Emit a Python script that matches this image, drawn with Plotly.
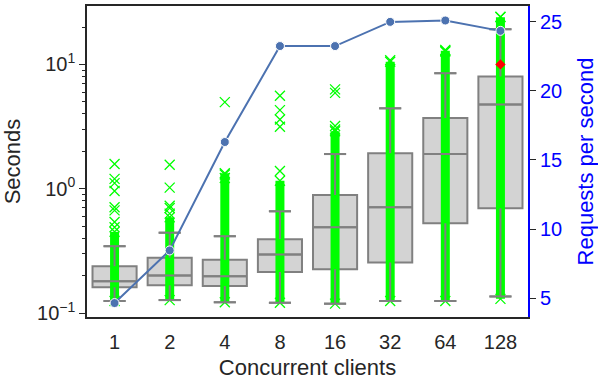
import plotly.graph_objects as go

clients = ['1', '2', '4', '8', '16', '32', '64', '128']

# box statistics (seconds)
q1 = [0.161, 0.167, 0.165, 0.214, 0.225, 0.255, 0.527, 0.695]
median = [0.180, 0.200, 0.198, 0.296, 0.490, 0.708, 1.90, 4.76]
q3 = [0.238, 0.279, 0.268, 0.393, 0.890, 1.93, 3.70, 8.0]
lower = [0.125, 0.127, 0.122, 0.121, 0.119, 0.125, 0.125, 0.136]
upper = [0.345, 0.443, 0.415, 0.658, 1.90, 4.43, 8.5, 19.2]

# dense band of raw samples and sparse outliers
band_low = [0.125, 0.127, 0.122, 0.121, 0.119, 0.125, 0.125, 0.13]
band_high = [0.45, 0.59, 1.33, 1.16, 2.9, 10.5, 12.9, 24.0]
outliers = [
    [1.58, 1.20, 1.11, 0.96, 0.71, 0.67, 0.54, 0.49],
    [1.56, 1.02, 0.73, 0.70, 0.63],
    [4.97, 1.30, 1.22],
    [5.6, 4.29, 3.6, 3.15, 1.39],
    [6.3, 5.9, 3.2, 3.0],
    [10.8],
    [13.1, 12.7],
    [24.2],
]
mean_128 = 10.0

# throughput
rps = [4.64, 8.45, 16.3, 23.25, 23.25, 25.0, 25.1, 24.35]

pos = list(range(len(clients)))
gray = '#808080'
green = '#00ff00'
ink = '#262626'

fig = go.Figure()

fig.add_trace(go.Box(
    x=pos, q1=q1, median=median, q3=q3, lowerfence=lower, upperfence=upper,
    fillcolor='#d3d3d3', line=dict(color=gray, width=2), width=0.8,
    whiskerwidth=0.5, boxpoints=False, showlegend=False, hoverinfo='skip'))

# dense sample band
bx, by = [], []
for i in pos:
    bx += [i, i, None]
    by += [band_low[i], band_high[i], None]
fig.add_trace(go.Scatter(x=bx, y=by, mode='lines',
                         line=dict(color=green, width=9), showlegend=False))

ox, oy = [], []
for i in pos:
    pts = outliers[i] + [band_low[i], band_high[i]]
    ox += [i] * len(pts)
    oy += pts
fig.add_trace(go.Scatter(x=ox, y=oy, mode='markers', showlegend=False,
                         marker=dict(symbol='x-thin', size=10, color=green,
                                     line=dict(color=green, width=1.3))))

# whiskers, caps and medians drawn above the samples
sx, sy = [], []
for i in pos:
    sx += [i, i, None, i, i, None,
           i - 0.2, i + 0.2, None, i - 0.2, i + 0.2, None,
           i - 0.4, i + 0.4, None]
    sy += [lower[i], q1[i], None, q3[i], upper[i], None,
           lower[i], lower[i], None, upper[i], upper[i], None,
           median[i], median[i], None]
fig.add_trace(go.Scatter(x=sx, y=sy, mode='lines',
                         line=dict(color=gray, width=2), showlegend=False))

fig.add_trace(go.Scatter(x=[7], y=[mean_128], mode='markers', showlegend=False,
                         marker=dict(symbol='diamond', size=8, color='red')))

fig.add_trace(go.Scatter(x=pos, y=rps, yaxis='y2', mode='lines+markers',
                         line=dict(color='#4c72b0', width=2),
                         marker=dict(size=9, color='#4c72b0',
                                     line=dict(color='white', width=1)),
                         showlegend=False))

minor_vals = [m * 10 ** e for e in (-2, -1, 0, 1) for m in range(2, 10)]

fig.update_layout(
    width=598, height=381,
    margin=dict(l=87, r=70, t=4, b=64),
    plot_bgcolor='white', paper_bgcolor='white',
    font=dict(family='Liberation Sans, Arial, sans-serif', size=20, color=ink),
    xaxis=dict(range=[-0.5, 7.5], tickvals=pos, ticktext=clients,
               showline=True, mirror=True, linecolor=ink, linewidth=1.5,
               ticks='', ticklabelstandoff=6, showgrid=False, zeroline=False,
               title=dict(text='Concurrent clients', font=dict(size=22), standoff=8)),
    yaxis=dict(type='log', range=[-1.032, 1.47], tickvals=[0.1, 1, 10],
               ticktext=['10<sup>−1</sup>', '10<sup>0</sup>', '10<sup>1</sup>'],
               showline=True, linecolor=ink, linewidth=1.5,
               ticks='outside', ticklen=6, tickcolor=ink, showgrid=False,
               minor=dict(tickvals=minor_vals, ticks='outside', ticklen=3,
                          tickcolor=ink, showgrid=False),
               title=dict(text='Seconds', font=dict(size=22), standoff=10)),
    yaxis2=dict(overlaying='y', side='right', range=[3.63, 26.15],
                tickvals=[5, 10, 15, 20, 25], showline=True, linecolor='blue',
                linewidth=2, ticks='outside', ticklen=6, tickcolor=ink,
                tickfont=dict(color='blue', size=20), showgrid=False, zeroline=False,
                title=dict(text='Requests per second',
                           font=dict(color='blue', size=22), standoff=16)),
)

fig.write_html("out.html", config={'displayModeBar': False},
               post_script="document.body.style.margin='0';")
